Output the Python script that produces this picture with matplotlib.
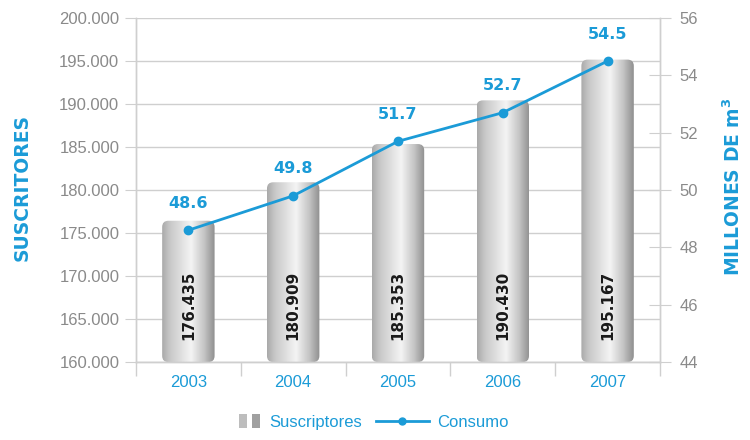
import matplotlib
matplotlib.use("Agg")
import matplotlib.pyplot as plt
import numpy as np
from matplotlib.patches import FancyBboxPatch, Rectangle
from matplotlib.colors import LinearSegmentedColormap
from matplotlib.lines import Line2D
from matplotlib.legend_handler import HandlerBase
from matplotlib import font_manager

years = ["2003", "2004", "2005", "2006", "2007"]
suscriptores = [176435, 180909, 185353, 190430, 195167]
suscriptores_labels = ["176.435", "180.909", "185.353", "190.430", "195.167"]
consumo = [48.6, 49.8, 51.7, 52.7, 54.5]
left_ticks = [160000, 165000, 170000, 175000, 180000, 185000, 190000, 195000, 200000]
left_ticklabels = ["160.000", "165.000", "170.000", "175.000", "180.000",
                   "185.000", "190.000", "195.000", "200.000"]
right_ticks = [44, 46, 48, 50, 52, 54, 56]

names = {f.name for f in font_manager.fontManager.ttflist}
narrow = "Liberation Sans Narrow" if "Liberation Sans Narrow" in names else "Liberation Sans"

BLUE = "#1b9bd7"
GREY = "#8a8a8a"
GRID = "#cfcfcf"

fig = plt.figure(figsize=(7.5, 4.4), dpi=100)
ax = fig.add_axes([0.1813, 0.177, 0.6987, 0.782])
ax2 = ax.twinx()

x = np.arange(len(years))
width = 0.5
ax.set_xlim(-0.5, len(years) - 0.5)
ax.set_ylim(160000, 200000)
ax2.set_ylim(44, 56)

cmap = LinearSegmentedColormap.from_list(
    "cyl", [(0, "#a9a9a9"), (0.15, "#c8c8c8"), (0.55, "#f4f4f4"), (0.8, "#c4c4c4"), (1, "#8e8e8e")])
grad = np.linspace(0, 1, 256).reshape(1, -1)

ax.set_yticks(left_ticks)
ax.set_yticklabels(left_ticklabels)
ax.yaxis.grid(True, color=GRID, linewidth=1)
ax.set_axisbelow(True)

for xi, v, lab in zip(x, suscriptores, suscriptores_labels):
    x0 = xi - width / 2
    patch = FancyBboxPatch((x0, 160000), width, v - 160000,
                           boxstyle="round,pad=0,rounding_size=0.06",
                           mutation_aspect=(40000 / 344) / (5 / 525),
                           facecolor="none", edgecolor="none", transform=ax.transData)
    ax.add_patch(patch)
    im = ax.imshow(grad, cmap=cmap, aspect="auto", extent=(x0, x0 + width, 160000, v),
                   zorder=2, interpolation="bilinear")
    im.set_clip_path(patch)
    ax.text(xi, 166600, lab, rotation=90, ha="center", va="center",
            fontsize=11, fontweight="bold", color="#1a1a1a", zorder=5,
            family="DejaVu Sans")

ax.set_xlim(-0.5, len(years) - 0.5)
ax.set_ylim(160000, 200000)

ax2.plot(x, consumo, color=BLUE, linewidth=2, marker="o", markersize=6, zorder=6)
for xi, c in zip(x, consumo):
    ax2.annotate(f"{c}", (xi, c), xytext=(0, 14), textcoords="offset points",
                 ha="center", va="bottom", color=BLUE, fontsize=11.5, fontweight="bold",
                 family="DejaVu Sans")

for a in (ax, ax2):
    a.spines["top"].set_visible(False)
    for s in ("left", "right", "bottom"):
        a.spines[s].set_color(GRID)
        a.spines[s].set_linewidth(1)

ax.set_xticks(x)
ax.set_xticklabels(years)
ax.set_xticks(np.arange(len(years) + 1) - 0.5, minor=True)
ax.tick_params(axis="x", which="major", length=0, pad=9, colors=BLUE, labelsize=12)
for t in ax.get_xticklabels():
    t.set_family(narrow)
ax.tick_params(axis="x", which="minor", length=10, color=GRID, width=1)
ax.tick_params(axis="y", length=8, color=GRID, colors=GREY, labelsize=12, pad=4)
for t in ax.get_yticklabels():
    t.set_family(narrow)

ax2.set_yticks(right_ticks)
ax2.set_yticklabels([str(t) for t in right_ticks])
ax2.tick_params(axis="y", direction="inout", length=16, color=GRID, colors=GREY,
                labelsize=12, pad=6)
for t in ax2.get_yticklabels():
    t.set_family(narrow)

fig.text(0.03, 0.575, "SUSCRITORES", rotation=90, ha="center", va="center",
         color=BLUE, fontsize=13.5, fontweight="bold", family="DejaVu Sans")
fig.text(0.978, 0.575, "MILLONES DE m$^\\mathbf{3}$", rotation=90, ha="center", va="center",
         color=BLUE, fontsize=13.5, fontweight="bold", family="DejaVu Sans")


class GradHandler(HandlerBase):
    def create_artists(self, legend, orig, xd, yd, w, h, fontsize, trans):
        arts = []
        bw = 6
        for off, col in [(w - 16, "#bdbdbd"), (w - 7, "#a0a0a0")]:
            r = Rectangle((xd + off, yd - 1), bw, h + 2, facecolor=col,
                          edgecolor="none", transform=trans)
            arts.append(r)
        return arts


bar_handle = Rectangle((0, 0), 1, 1)
line_handle = Line2D([], [], color=BLUE, linewidth=2, marker="o", markersize=5)
leg = fig.legend([bar_handle, line_handle], ["Suscriptores", "Consumo"],
                 handler_map={Rectangle: GradHandler()},
                 loc="center", bbox_to_anchor=(0.478, 0.04), ncol=2, frameon=False,
                 handlelength=3.2, handletextpad=0.5, columnspacing=0.8,
                 prop={"family": narrow, "size": 12})
for t in leg.get_texts():
    t.set_color(BLUE)
fig.savefig("out.png", dpi=100)
